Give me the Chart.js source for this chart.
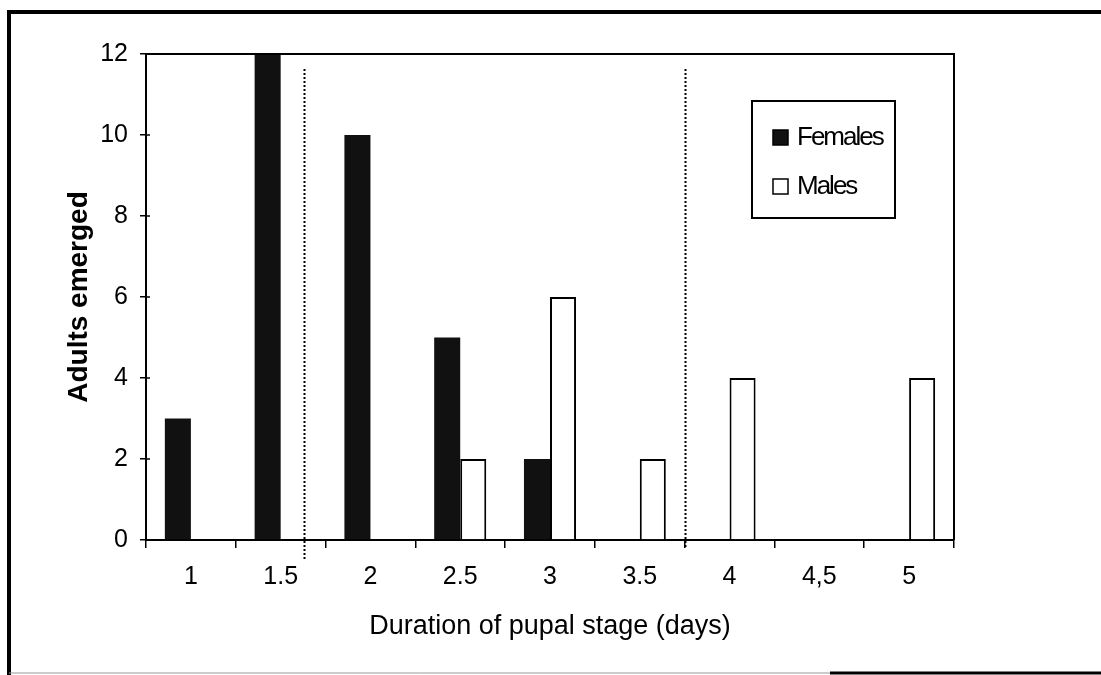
<!DOCTYPE html>
<html>
<head>
<meta charset="utf-8">
<script src="https://cdn.jsdelivr.net/npm/chart.js@4/dist/chart.umd.min.js"></script>
<style>
  html, body { margin: 0; padding: 0; background: #fff; }
  #wrap { width: 1101px; height: 675px; position: relative; }
</style>
</head>
<body>
<div id="wrap"><canvas id="pupalChart"></canvas></div>
<script>
// duration categories (days) and the tick text printed under them
const durations = ['1', '1.5', '2', '2.5', '3', '3.5', '4', '4.5', '5'];
const durationLabels = ['1', '1.5', '2', '2.5', '3', '3.5', '4', '4,5', '5'];

// adults emerged per duration
const females = [3, 12, 10, 5, 2, 0, 0, 0, 0];
const males = [0, 0, 0, 2, 6, 2, 4, 0, 4];

// y axis range
const yMin = 0;
const yMax = 12;
const yStep = 2;

// dotted divider lines, in days
const dividerDays = [1.63, 3.75];

(function(){
	const FONT = 'Arial, "Liberation Sans", sans-serif';

	// --- page frame, plot box and dotted dividers ---
	const framePlugin = {
		id: 'frame',
		beforeDraw(chart){
			const ctx = chart.ctx;
			ctx.save();
			ctx.fillStyle = '#fff';
			ctx.fillRect(0, 0, chart.width, chart.height);
			ctx.restore();
		},
		afterDraw(chart){
			const ctx = chart.ctx;
			const a = chart.chartArea;
			const xs = chart.scales.x;
			const ys = chart.scales.y;
			ctx.save();
			ctx.strokeStyle = '#000';

			// outer frame (scan border)
			ctx.lineWidth = 4;
			ctx.beginPath();
			ctx.moveTo(9, 675);
			ctx.lineTo(9, 12);
			ctx.lineTo(1101, 12);
			ctx.stroke();
			ctx.lineWidth = 3;
			ctx.beginPath();
			ctx.moveTo(830, 673);
			ctx.lineTo(1101, 673);
			ctx.stroke();
			ctx.strokeStyle = '#999';
			ctx.lineWidth = 1;
			ctx.beginPath();
			ctx.moveTo(9, 673);
			ctx.lineTo(830, 673);
			ctx.stroke();

			// plot box top + right
			ctx.strokeStyle = '#000';
			ctx.lineWidth = 2;
			ctx.beginPath();
			ctx.moveTo(a.left, a.top);
			ctx.lineTo(a.right, a.top);
			ctx.lineTo(a.right, a.bottom);
			ctx.stroke();

			// y ticks cross slightly into the plot
			ctx.lineWidth = 1.5;
			ys.ticks.forEach(function(t){
				const y = ys.getPixelForValue(t.value);
				ctx.beginPath();
				ctx.moveTo(a.left, y);
				ctx.lineTo(a.left + 4, y);
				ctx.stroke();
			});

			// dotted dividers
			ctx.lineWidth = 2;
			ctx.setLineDash([2, 2]);
			dividerDays.forEach(function(d, i){
				const idx = (d - 1) / 0.5;
				const x = Math.round(xs.getPixelForValue(idx)) + 0.5;
				ctx.beginPath();
				ctx.moveTo(x, a.top + 15);
				ctx.lineTo(x, a.bottom + (i === 0 ? 20 : 8));
				ctx.stroke();
			});
			ctx.restore();
		}
	};

	// --- boxed legend inside the plot ---
	const boxLegendPlugin = {
		id: 'boxLegend',
		afterDraw(chart){
			const ctx = chart.ctx;
			const a = chart.chartArea;
			const left = a.right - 202, top = a.top + 47, w = 143, h = 117;
			ctx.save();
			ctx.fillStyle = '#fff';
			ctx.fillRect(left, top, w, h);
			ctx.strokeStyle = '#000';
			ctx.lineWidth = 2;
			ctx.strokeRect(left, top, w, h);

			ctx.font = '26px ' + FONT;
			ctx.letterSpacing = '-2px';
			ctx.textBaseline = 'middle';
			chart.data.datasets.forEach(function(ds, i){
				const cy = top + 36 + i * 49;
				const sx = left + 21;
				ctx.fillStyle = ds.backgroundColor;
				ctx.fillRect(sx, cy - 7, 15, 15);
				ctx.strokeStyle = '#000';
				ctx.lineWidth = 1.5;
				ctx.strokeRect(sx, cy - 7, 15, 15);
				ctx.fillStyle = '#000';
				ctx.fillText(ds.label, sx + 24, cy + 1);
			});
			ctx.restore();
		}
	};

	function initPupalChart(){
		const canvas = document.getElementById('pupalChart');
		if (!canvas) return;
		const ctx = canvas.getContext('2d');
		const tickFont = { family: FONT, size: 25 };

		new Chart(ctx, {
			type: 'bar',
			data: {
				labels: durations,
				datasets: [{
					label: 'Females',
					data: females,
					backgroundColor: '#111111',
					borderColor: '#111111',
					borderWidth: 0
				}, {
					label: 'Males',
					data: males,
					backgroundColor: '#ffffff',
					borderColor: '#000000',
					borderWidth: 2
				}]
			},
			options: {
				responsive: true,
				maintainAspectRatio: false,
				animation: false,
				categoryPercentage: 0.58,
				barPercentage: 1,
				layout: { padding: { left: 10, top: 54, right: 147, bottom: 20 } },
				plugins: {
					legend: { display: false },
					tooltip: { enabled: false }
				},
				scales: {
					x: {
						afterFit: function(scale){ scale.height = 115; },
						grid: { offset: true, drawOnChartArea: false, color: '#000', lineWidth: 1.5, tickLength: 8 },
						border: { color: '#000', width: 2 },
						ticks: {
							color: '#000',
							font: tickFont,
							padding: 14,
							maxRotation: 0,
							callback: function(v, i){ return durationLabels[i]; }
						},
						title: {
							display: true,
							text: 'Duration of pupal stage (days)',
							color: '#000',
							font: { family: FONT, size: 27 },
							padding: { top: 0, bottom: 12 }
						}
					},
					y: {
						min: yMin,
						max: yMax,
						afterFit: function(scale){ scale.width = 136; },
						grid: { drawOnChartArea: false, color: '#000', lineWidth: 1.5, tickLength: 6 },
						border: { color: '#000', width: 2 },
						ticks: { stepSize: yStep, color: '#000', font: tickFont, padding: 12 },
						title: {
							display: true,
							text: 'Adults emerged',
							color: '#000',
							font: { family: FONT, size: 28, weight: 'bold' },
							padding: { top: 52, bottom: 0 }
						}
					}
				}
			},
			plugins: [framePlugin, boxLegendPlugin]
		});
	}

	if (document.readyState === 'loading') {
		document.addEventListener('DOMContentLoaded', initPupalChart);
	} else {
		initPupalChart();
	}
})();
</script>
</body>
</html>
